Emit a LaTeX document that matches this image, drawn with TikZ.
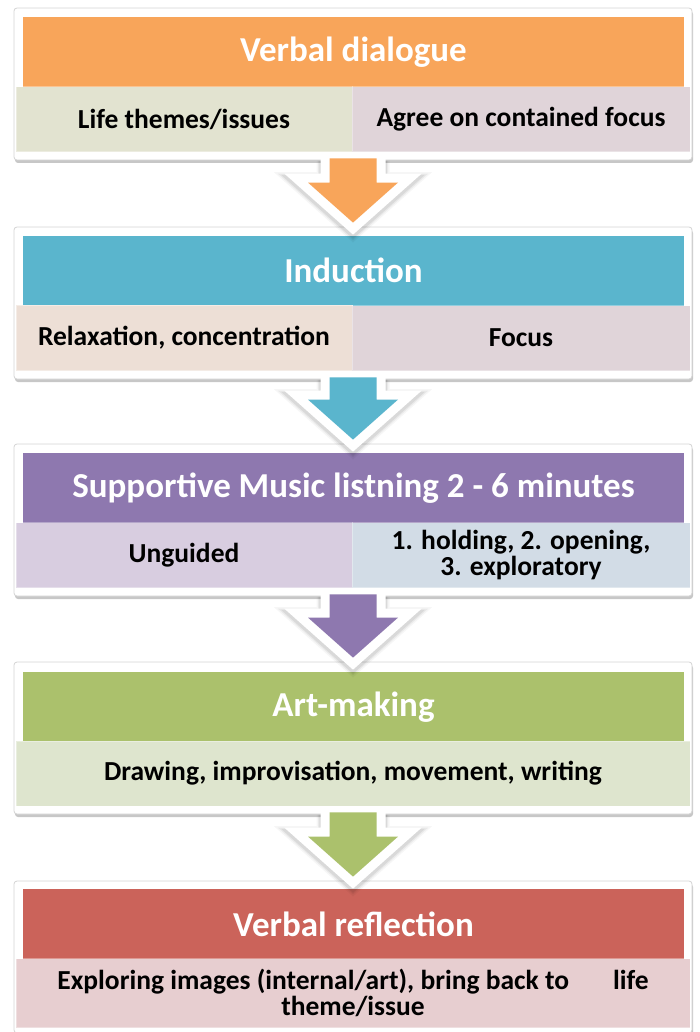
\documentclass[tikz,border=0pt]{standalone}
\usepackage{fontspec}
\setmainfont{Carlito}
\usetikzlibrary{calc,shadows}
\definecolor{hOrange}{HTML}{F8A55A}
\definecolor{hTeal}{HTML}{5AB5CD}
\definecolor{hPurple}{HTML}{8E78AF}
\definecolor{hGreen}{HTML}{ABC16C}
\definecolor{hRed}{HTML}{CB635A}
\definecolor{sOneL}{HTML}{E2E3D0}
\definecolor{sOneR}{HTML}{E0D4D9}
\definecolor{sTwoL}{HTML}{EDDFD6}
\definecolor{sTwoR}{HTML}{E0D4D9}
\definecolor{sThreeL}{HTML}{D8CDE0}
\definecolor{sThreeR}{HTML}{D2DCE6}
\definecolor{sFour}{HTML}{DEE5CE}
\definecolor{sFive}{HTML}{E7CED0}
\definecolor{boxline}{HTML}{D4D4D4}
\tikzset{
  outerbox/.style={draw=boxline, fill=white, rounded corners=3pt, line width=0.8pt,
    minimum width=678pt, minimum height=152pt, inner sep=0pt,
    drop shadow={shadow xshift=1pt, shadow yshift=-3pt, opacity=0.22, fill=black}},
  headbox/.style={inner sep=0pt, minimum width=661pt, minimum height=70pt,
    text=white, font=\bfseries\fontsize{35}{38}\selectfont},
  subbox/.style={inner sep=0pt, minimum height=65pt, align=center, text=black,
    font=\bfseries\fontsize{27.5}{26}\selectfont, draw=white, draw opacity=0.35, line width=1pt},
  halfL/.style={subbox, minimum width=336pt},
  halfR/.style={subbox, minimum width=338pt},
  fullsub/.style={subbox, minimum width=674pt},
}
\newcommand\flowarr[3]{%
  \path let \p1=(#1.south), \p2=(#2.north) in
    coordinate (#1sl) at (\x1-23.5pt,\y1+2pt)
    coordinate (#1sr) at (\x1+23.5pt,\y1+2pt)
    coordinate (#1bl) at (\x1-23.5pt,\y2+44pt)
    coordinate (#1br) at (\x1+23.5pt,\y2+44pt)
    coordinate (#1hl) at (\x1-45pt,\y2+44pt)
    coordinate (#1hr) at (\x1+45pt,\y2+44pt)
    coordinate (#1tp) at (\x1,\y2+4pt);
  \foreach \w/\o in {26/0.035,23/0.05,20.5/0.07}{
    \draw[black, opacity=\o, line width=\w pt, miter limit=3, transform canvas={yshift=-2.5pt}]
      (#1sl) -- (#1bl) -- (#1hl) -- (#1tp) -- (#1hr) -- (#1br) -- (#1sr);
  }
  \draw[white, line width=18pt, miter limit=3]
    (#1sl) -- (#1bl) -- (#1hl) -- (#1tp) -- (#1hr) -- (#1br) -- (#1sr);
  \fill[#3] (#1sl) -- (#1bl) -- (#1hl) -- (#1tp) -- (#1hr) -- (#1br) -- (#1sr) -- cycle;
}
\begin{document}
\begin{tikzpicture}[x=1pt,y=-1pt]
\useasboundingbox (0,0) rectangle (699,1032);
% box 1
\node[outerbox] (b1) at (353,84) {};
\node[headbox, fill=hOrange] (h1) at (353.5,52) {Verbal dialogue};
\node[halfL, fill=sOneL] (s1l) at (184,119.5) {Life themes/issues};
\node[halfR, fill=sOneR] (s1r) at (521,119.5) {Agree on contained focus};
% box 2
\node[outerbox] (b2) at (353,303) {};
\node[headbox, fill=hTeal] (h2) at (353.5,270.5) {Induction};
\node[halfL, fill=sTwoL, draw=sTwoL!60!white, draw opacity=1] (s2l) at (184,338) {Relaxation, concentration};
\node[halfR, fill=sTwoR] (s2r) at (521,338) {Focus};
% box 3
\node[outerbox] (b3) at (353,520) {};
\node[headbox, fill=hPurple] (h3) at (353.5,488) {Supportive Music listning 2 - 6 minutes};
\node[halfL, fill=sThreeL] (s3l) at (184,555) {Unguided};
\node[halfR, fill=sThreeR] (s3r) at (521,555) {1. holding, 2. opening,\\3. exploratory};
% box 4
\node[outerbox] (b4) at (353,738) {};
\node[headbox, fill=hGreen] (h4) at (353.5,707) {Art-making};
\node[fullsub, fill=sFour] (s4) at (353,773.5) {Drawing, improvisation, movement, writing};
% box 5
\node[outerbox] (b5) at (353,957) {};
\node[headbox, fill=hRed] (h5) at (353.5,924) {Verbal reflection};
\node[fullsub, fill=sFive, minimum height=69pt] (s5) at (353,993) {Exploring images (internal/art), bring back to\hspace{44pt}life\\theme/issue};
% arrows
\flowarr{b1}{b2}{hOrange}
\flowarr{b2}{b3}{hTeal}
\flowarr{b3}{b4}{hPurple}
\flowarr{b4}{b5}{hGreen}
\end{tikzpicture}
\end{document}
